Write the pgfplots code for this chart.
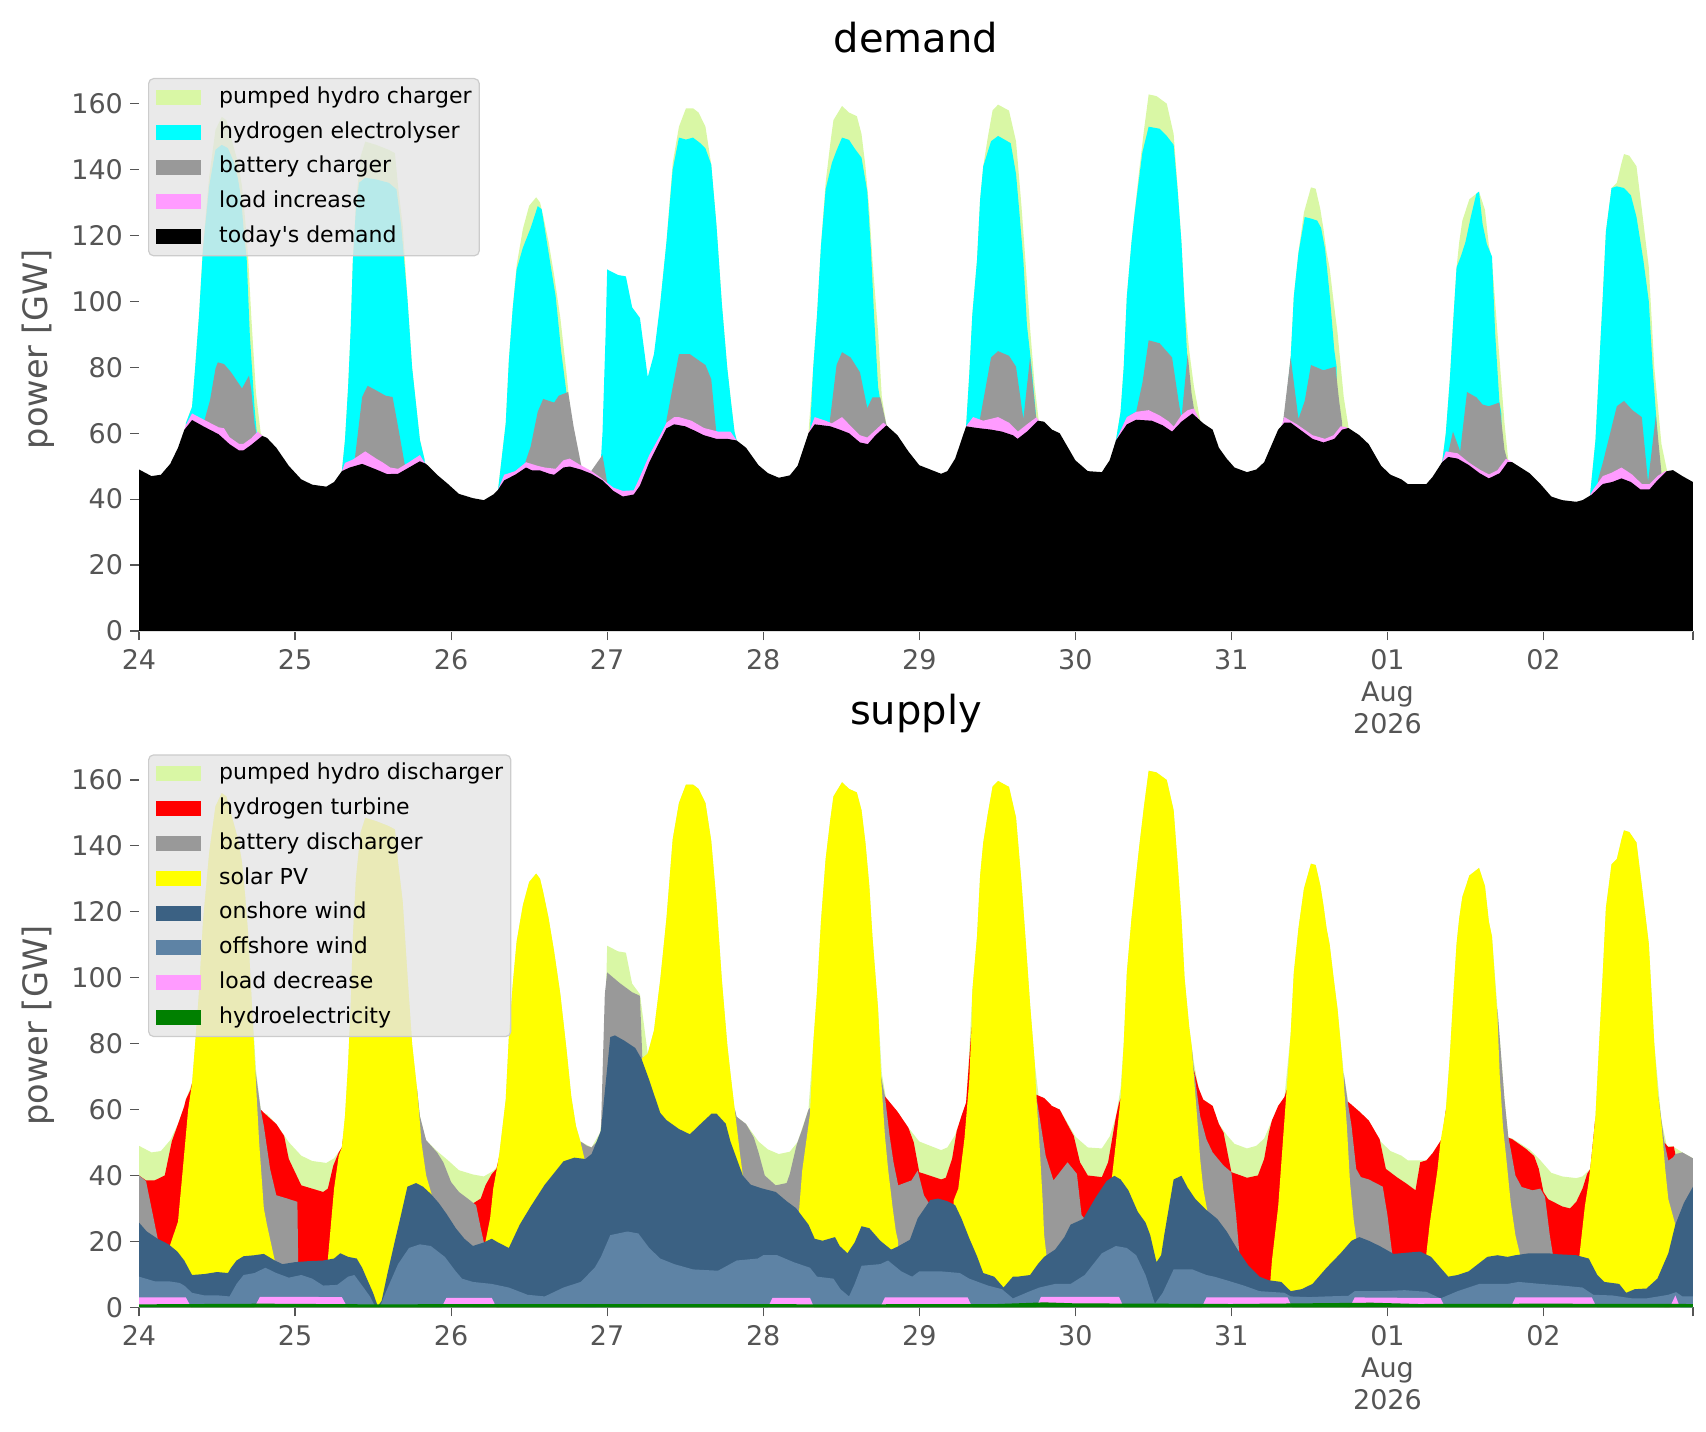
\documentclass[border=0pt]{standalone}
\usepackage{fontspec}
\setmainfont{DejaVu Sans}
\usepackage{pgfplots}
\pgfplotsset{compat=1.18}
\definecolor{phc}{RGB}{217,247,165}
\definecolor{hyd}{RGB}{0,255,255}
\definecolor{bat}{RGB}{153,153,153}
\definecolor{lpink}{RGB}{255,155,255}
\definecolor{solar}{RGB}{255,255,0}
\definecolor{onw}{RGB}{59,97,131}
\definecolor{offw}{RGB}{94,131,165}
\definecolor{hydro}{RGB}{0,128,0}
\definecolor{tickgray}{RGB}{85,85,85}
\definecolor{legbg}{RGB}{229,229,229}
\definecolor{legedge}{RGB}{204,204,204}
\pgfplotsset{
 myax/.style={
  scale only axis, width=777pt, height=281.8pt,
  xmin=0, xmax=9.9583, ymin=0, ymax=171,
  axis x line*=bottom, axis y line*=left,
  axis line style={-},
  x axis line style={draw=black!12, line width=1pt},
  y axis line style={draw=none},
  tick align=outside,
  major tick length=4.5pt,
  tick style={draw=tickgray, line width=0.6pt},
  ytick={0,20,40,60,80,100,120,140,160},
  xtick={0,1,2,3,4,5,6,7,8,9,9.9583},
  xticklabels={24,25,26,27,28,29,30,31,{01\\Aug\\2026},02,{}},
  tick label style={font=\fontsize{13.5}{16}\selectfont, text=tickgray},
  xticklabel style={align=center},
  xticklabel shift=1.1pt,
  /pgf/number format/assume math mode=true,
  ylabel={power [GW]},
  every axis y label/.style={at={(axis description cs:-0.065,0.5)}, rotate=90, anchor=center, font=\fontsize{16.8}{20}\selectfont, text=tickgray},
  legend cell align=left,
  legend style={at={(axis description cs:0,1)}, anchor=north west, xshift=4.5pt, yshift=-5.3pt,
    draw=legedge, line width=0.6pt, fill=legbg, fill opacity=0.8, draw opacity=1, text opacity=1,
    rounded corners=2.5pt, inner xsep=3.8pt, inner ysep=4pt,
    font=\fontsize{11}{13}\selectfont, row sep=6.4pt,
    nodes={inner sep=0pt, text height=8.4pt, text depth=2.6pt},
    /tikz/every odd column/.append style={column sep=9pt}},
  legend image code/.code={\begin{scope}[##1]\pgfsetcornersarced{\pgfpointorigin}\pgfsetfillopacity{1}\pgfpathrectangle{\pgfpoint{0pt}{-3.75pt}}{\pgfpoint{22.5pt}{7.5pt}}\pgfusepath{fill}\end{scope}},
 }
}
\begin{document}
\begin{tikzpicture}
\useasboundingbox (0,0) rectangle (853pt,715.5pt);
% ---------------- demand ----------------
\begin{axis}[myax, at={(69.5pt,400pt)}, anchor=south west, title={demand},
  every axis title/.style={at={(axis description cs:0.5,1)}, anchor=center, yshift=14.7pt, font=\fontsize{20}{24}\selectfont}]
\addplot[fill=phc, draw=none] coordinates {
(0.30,0) (0.30,63) (0.34,68) (0.36,80) (0.385,96) (0.41,117) (0.45,138) (0.49,152) (0.53,156) (0.56,155) (0.60,148) (0.635,142) (0.66,135) (0.68,125) (0.70,113) (0.72,95) (0.75,72) (0.78,60) (0.79,59.2) (0.79,0)
(1.30,0) (1.30,48.5) (1.32,58) (1.34,74) (1.356,91) (1.37,112) (1.39,130) (1.42,144) (1.45,148.5) (1.52,147.5) (1.60,146) (1.64,145) (1.66,135) (1.69,123) (1.72,101) (1.75,80) (1.80,58) (1.83,52) (1.83,0)
(2.30,0) (2.30,42.5) (2.35,63) (2.37,82) (2.395,98) (2.42,111) (2.46,122) (2.50,129) (2.545,131.6) (2.57,130) (2.59,126) (2.625,118) (2.66,108) (2.70,95) (2.74,78) (2.77,64) (2.80,55) (2.83,50.3) (2.83,0)
(3.34,0) (3.34,99.3) (3.38,118) (3.42,142) (3.46,153) (3.505,158.6) (3.55,158.6) (3.586,157.3) (3.63,153) (3.667,141.5) (3.70,123.4) (3.735,99.3) (3.77,79.6) (3.793,69.8) (3.816,60.5) (3.83,57.8) (3.83,0)
(4.29,0) (4.29,60) (4.32,79.6) (4.345,96) (4.37,117) (4.40,136) (4.43,148) (4.45,155) (4.505,159.3) (4.55,157.3) (4.60,156.2) (4.63,150.8) (4.655,141) (4.68,127.8) (4.70,112.5) (4.736,90.6) (4.76,71) (4.79,62.5) (4.79,0)
(5.30,0) (5.30,62.1) (5.32,77.5) (5.34,96) (5.37,112.5) (5.39,131) (5.41,141) (5.44,150) (5.47,158) (5.505,159.7) (5.575,157.9) (5.62,148.6) (5.655,128.9) (5.68,112.5) (5.71,92) (5.74,74.2) (5.765,64) (5.765,0)
(6.26,0) (6.26,57.8) (6.29,66.5) (6.31,80) (6.33,101.5) (6.36,118) (6.38,127) (6.41,140) (6.44,152) (6.47,162.8) (6.52,162.3) (6.586,160) (6.63,150.8) (6.656,134.4) (6.68,118) (6.70,100) (6.73,85) (6.76,74.2) (6.79,66.5) (6.80,64) (6.80,0)
(7.34,0) (7.34,63.8) (7.38,83) (7.40,101.5) (7.43,115) (7.465,127) (7.51,134.6) (7.54,134.2) (7.57,128) (7.59,122) (7.61,115) (7.63,110) (7.655,100) (7.68,90.6) (7.72,71) (7.75,62) (7.75,0)
(8.35,0) (8.35,51.2) (8.374,60) (8.40,76.4) (8.42,92.8) (8.443,110.3) (8.46,118) (8.48,124.5) (8.525,131) (8.587,133.3) (8.625,127.8) (8.65,117) (8.67,112.5) (8.705,90.6) (8.75,63.2) (8.775,51.5) (8.775,0)
(9.30,0) (9.30,42) (9.333,57.8) (9.356,79.6) (9.38,101.5) (9.40,121.2) (9.436,134.4) (9.47,136) (9.50,142) (9.516,144.7) (9.55,144.2) (9.596,141) (9.63,128) (9.675,110.3) (9.71,80) (9.756,56.7) (9.79,49) (9.79,0)
} \closedcycle;
\addlegendentry{pumped hydro charger}
\addplot[fill=hyd, draw=none] coordinates {
(0.30,0) (0.30,63) (0.34,68) (0.36,80) (0.385,96) (0.41,116) (0.45,135) (0.49,146) (0.53,147.5) (0.57,146.5) (0.61,142) (0.635,137) (0.655,131) (0.67,122) (0.69,113) (0.71,90) (0.74,68) (0.755,60) (0.755,0)
(1.30,0) (1.30,48.5) (1.32,58) (1.34,74) (1.356,91) (1.37,112) (1.39,128) (1.41,136) (1.45,137.5) (1.52,137) (1.60,136) (1.65,134) (1.68,123) (1.72,101) (1.75,80) (1.80,58) (1.83,52) (1.83,0)
(2.30,0) (2.30,42.5) (2.35,63) (2.37,82) (2.395,98) (2.42,109.7) (2.46,116.3) (2.51,122.3) (2.555,128.9) (2.58,128) (2.625,114.7) (2.67,101.5) (2.705,85) (2.74,72) (2.75,68) (2.75,0)
(2.955,0) (2.955,48) (2.97,60) (2.99,90) (3.00,109.7) (3.07,108) (3.12,107.6) (3.16,98.2) (3.21,95) (3.26,77) (3.30,84) (3.34,99.3) (3.38,118) (3.42,140) (3.46,149.7) (3.505,149.1) (3.55,149.7) (3.597,148) (3.63,146.4) (3.667,141.5) (3.70,123.4) (3.735,99.3) (3.77,79.6) (3.793,69.8) (3.816,60.5) (3.83,57.8) (3.83,0)
(4.30,0) (4.30,60.5) (4.32,79.6) (4.345,96) (4.37,116.8) (4.40,134) (4.44,142) (4.47,145.8) (4.505,149.7) (4.55,149) (4.586,146.4) (4.63,143.6) (4.667,133.3) (4.69,115.8) (4.71,96) (4.736,74) (4.75,70) (4.75,0)
(5.30,0) (5.30,62.1) (5.32,77.5) (5.34,96) (5.37,112.5) (5.39,131) (5.41,141) (5.46,148.6) (5.505,150.2) (5.55,149) (5.586,148) (5.62,138.7) (5.64,127.8) (5.667,112.5) (5.69,92.8) (5.72,80) (5.75,64.3) (5.75,0)
(6.26,0) (6.26,57.8) (6.29,66.5) (6.31,80) (6.33,101.5) (6.36,118) (6.38,126.7) (6.43,145.3) (6.47,153) (6.54,152.4) (6.586,150.2) (6.63,147.5) (6.655,134) (6.68,118) (6.70,99.3) (6.72,80) (6.745,66.5) (6.76,64) (6.76,0)
(7.34,0) (7.34,63.8) (7.38,83) (7.40,101.5) (7.43,114.7) (7.47,125.6) (7.52,125) (7.55,124.5) (7.575,122.3) (7.60,116) (7.63,102) (7.66,85) (7.675,80) (7.675,0)
(8.35,0) (8.35,51) (8.374,60) (8.40,76.4) (8.42,92.8) (8.443,110.3) (8.47,113.6) (8.50,118) (8.534,125.6) (8.57,132.7) (8.587,133.3) (8.61,123.4) (8.637,117.4) (8.67,113.6) (8.69,90.6) (8.717,69.8) (8.73,66) (8.73,0)
(9.30,0) (9.30,42) (9.333,57.8) (9.356,79.6) (9.38,101.5) (9.40,121.2) (9.436,134.4) (9.47,134.9) (9.516,134.4) (9.56,132.2) (9.596,125.6) (9.64,112.5) (9.675,100) (9.70,79.6) (9.72,66.5) (9.73,60) (9.73,0)
} \closedcycle;
\addlegendentry{hydrogen electrolyser}
\addplot[fill=bat, draw=none] coordinates {
(0.42,0) (0.42,64) (0.455,70) (0.49,79.6) (0.505,81.5) (0.545,81) (0.59,78.5) (0.66,73.6) (0.705,77.5) (0.72,73) (0.74,63) (0.755,59) (0.755,0)
(1.385,0) (1.385,53) (1.43,71) (1.465,74.4) (1.52,73) (1.58,71.4) (1.625,71) (1.66,62) (1.705,50) (1.705,0)
(2.476,0) (2.476,51.2) (2.51,56) (2.555,66.5) (2.59,70.4) (2.66,69.3) (2.69,71.4) (2.75,72.5) (2.785,62) (2.83,51.2) (2.835,50) (2.835,0)
(2.89,0) (2.89,48) (2.97,53.4) (3.00,45) (3.00,0)
(3.38,0) (3.38,64) (3.42,74) (3.46,84) (3.53,84) (3.59,82) (3.63,80.7) (3.667,76.4) (3.70,60) (3.70,0)
(4.425,0) (4.425,63) (4.47,80.7) (4.505,84.6) (4.56,83) (4.62,78.5) (4.667,67.6) (4.70,70.9) (4.75,70.9) (4.79,62.4) (4.79,0)
(5.38,0) (5.38,62) (5.46,83) (5.505,84.9) (5.575,83.5) (5.62,80.2) (5.667,64.3) (5.71,83) (5.75,64) (5.75,0)
(6.33,0) (6.33,64.9) (6.39,66.5) (6.43,75.3) (6.47,88.2) (6.54,87.3) (6.62,83) (6.665,68.7) (6.68,64.5) (6.72,84) (6.745,72) (6.765,66) (6.765,0)
(7.33,0) (7.33,63) (7.38,83) (7.43,64.3) (7.47,69.8) (7.51,80.7) (7.59,79.1) (7.667,80.2) (7.69,70) (7.71,63) (7.71,0)
(8.375,0) (8.375,51) (8.42,60.5) (8.466,54.5) (8.51,72.5) (8.57,70.9) (8.61,68.7) (8.65,68.2) (8.717,69.3) (8.75,55) (8.77,51.5) (8.77,0)
(9.35,0) (9.35,46) (9.38,51) (9.47,68.2) (9.516,69.8) (9.57,67) (9.63,64.9) (9.67,45.2) (9.72,65.4) (9.756,48) (9.756,0)
} \closedcycle;
\addlegendentry{battery charger}
\addplot[fill=lpink, draw=none] coordinates {
(0.29,0) (0.29,61.0) (0.30,62.5) (0.34,66) (0.42,64) (0.51,61.8) (0.545,61.5) (0.58,58.8) (0.64,56.8) (0.67,56.8) (0.72,58.5) (0.76,60.5) (0.79,59.2) (0.79,0)
(1.30,0) (1.30,48.5) (1.32,51) (1.37,52) (1.45,54.5) (1.52,52.3) (1.56,51.2) (1.61,49.6) (1.66,49.2) (1.73,51.2) (1.80,53.4) (1.83,51) (1.84,50.7) (1.84,0)
(2.30,0) (2.30,42.8) (2.34,47.4) (2.41,48.5) (2.48,51.2) (2.555,50.1) (2.60,49.6) (2.67,49.2) (2.72,51.8) (2.76,52.3) (2.83,50.3) (2.90,48.5) (2.95,46.8) (3.04,43.5) (3.10,42.5) (3.17,42.7) (3.20,45.7) (3.27,53.4) (3.34,59.4) (3.38,63.2) (3.43,64.9) (3.46,64.9) (3.54,63.8) (3.62,61.6) (3.71,60.5) (3.79,60.5) (3.83,57.8) (3.83,0)
(4.29,0) (4.29,60) (4.33,64.9) (4.40,63.8) (4.44,63) (4.505,64.9) (4.55,62.7) (4.62,59.4) (4.667,58.7) (4.72,61) (4.77,63.2) (4.79,62.4) (4.79,0)
(5.30,0) (5.30,62.1) (5.345,64.9) (5.41,63.8) (5.505,64.9) (5.575,63.2) (5.632,60.5) (5.69,62.7) (5.75,64.8) (5.765,64) (5.765,0)
(6.26,0) (6.26,57.8) (6.33,64.9) (6.39,66.5) (6.47,67) (6.54,65.4) (6.60,63.5) (6.63,62) (6.68,65.5) (6.72,67) (6.76,67.5) (6.79,64.5) (6.79,0)
(7.32,0) (7.32,62) (7.34,64.9) (7.42,62.7) (7.52,59.4) (7.60,58.3) (7.655,59.4) (7.70,62.1) (7.74,61.8) (7.74,0)
(8.35,0) (8.35,51.2) (8.374,54.5) (8.45,53.9) (8.52,51.2) (8.59,49) (8.65,47.5) (8.705,48.8) (8.76,52.3) (8.80,51.2) (8.80,0)
(9.30,0) (9.30,41.4) (9.32,43) (9.38,47) (9.436,48) (9.50,49.6) (9.57,47.4) (9.63,44.6) (9.68,44.6) (9.73,47) (9.78,48.5) (9.79,48.5) (9.79,0)
} \closedcycle;
\addlegendentry{load increase}
\addplot[fill=black, draw=none] coordinates {
(0,49.0) (0.08,47.0) (0.14,47.4) (0.20,50.7) (0.25,55.6) (0.29,61.0) (0.34,64.0) (0.42,61.9) (0.51,59.7) (0.58,56.7) (0.64,54.8) (0.67,54.8) (0.72,56.5) (0.79,59.2) (0.82,58.6) (0.88,55.6) (0.96,50.1) (1.04,46.0) (1.11,44.4) (1.20,43.8) (1.25,45.2) (1.30,48.5) (1.35,49.6) (1.43,50.7) (1.52,49.0) (1.59,47.6) (1.66,47.7) (1.73,49.6) (1.80,51.5) (1.84,50.7) (1.91,47.4) (1.98,44.6) (2.05,41.6) (2.14,40.3) (2.21,39.7) (2.27,41.4) (2.30,42.8) (2.34,45.7) (2.41,47.4) (2.48,49.6) (2.52,48.7) (2.57,48.7) (2.63,47.7) (2.66,47.4) (2.72,49.6) (2.76,49.9) (2.83,49.0) (2.90,47.7) (2.97,45.7) (3.04,42.5) (3.10,40.8) (3.17,41.4) (3.21,44.1) (3.27,51.2) (3.34,57.8) (3.38,61.5) (3.43,62.7) (3.50,62.1) (3.56,60.8) (3.62,59.4) (3.70,58.3) (3.77,58.3) (3.83,57.8) (3.89,55.6) (3.97,50.3) (4.03,47.9) (4.10,46.5) (4.17,47.2) (4.22,50.1) (4.29,60.0) (4.33,62.7) (4.43,62.1) (4.49,61.1) (4.55,60.0) (4.62,57.2) (4.67,56.7) (4.72,59.4) (4.79,62.4) (4.86,59.4) (4.93,54.5) (5.00,50.3) (5.07,49.0) (5.14,47.7) (5.18,48.5) (5.23,52.3) (5.30,62.1) (5.37,61.6) (5.46,61.1) (5.53,60.5) (5.60,59.4) (5.63,58.3) (5.69,60.5) (5.76,63.8) (5.80,63.5) (5.85,61.1) (5.90,60.0) (6.00,51.8) (6.08,48.5) (6.17,48.2) (6.22,51.8) (6.26,57.8) (6.33,62.7) (6.39,64.1) (6.49,63.8) (6.56,62.4) (6.62,60.5) (6.68,63.5) (6.75,66.0) (6.82,63.0) (6.88,61.1) (6.92,55.6) (6.97,52.3) (7.02,49.6) (7.10,48.2) (7.16,49.0) (7.21,51.2) (7.26,56.7) (7.30,61.1) (7.34,63.2) (7.38,63.2) (7.44,61.1) (7.52,58.3) (7.59,57.2) (7.66,58.3) (7.71,61.1) (7.75,61.6) (7.82,59.4) (7.88,56.7) (7.96,50.1) (8.02,47.4) (8.09,46.0) (8.13,44.6) (8.25,44.6) (8.29,46.8) (8.35,51.2) (8.39,52.8) (8.45,52.3) (8.52,50.4) (8.59,47.9) (8.65,46.3) (8.72,47.9) (8.77,51.2) (8.80,51.2) (8.91,47.9) (8.98,44.6) (9.05,40.8) (9.12,39.7) (9.21,39.2) (9.25,39.7) (9.31,41.4) (9.38,44.6) (9.44,45.2) (9.50,46.3) (9.56,45.2) (9.62,43.0) (9.68,43.0) (9.73,45.7) (9.79,48.5) (9.83,48.8) (9.89,47.0) (9.958,45.2)
} \closedcycle;
\addlegendentry{today\textquotesingle s demand}
\end{axis}
% ---------------- supply ----------------
\begin{axis}[myax, at={(69.5pt,61.85pt)}, anchor=south west, title={supply},
  every axis title/.style={at={(axis description cs:0.5,1)}, anchor=center, yshift=15.35pt, font=\fontsize{20}{24}\selectfont}]
\addplot[fill=phc, draw=none] coordinates {
(0,49.0) (0.08,47.0) (0.14,47.4) (0.20,50.7) (0.25,55.6) (0.29,61.0) (0.30,63) (0.34,68) (0.36,80) (0.385,96) (0.41,117) (0.45,138) (0.49,152) (0.53,156) (0.56,155) (0.60,148) (0.635,142) (0.66,135) (0.68,125) (0.70,113) (0.72,95) (0.75,72) (0.78,60) (0.79,59.2) (0.82,58.6) (0.88,55.6) (0.96,50.1) (1.04,46.0) (1.11,44.4) (1.20,43.8) (1.25,45.2) (1.30,48.5) (1.32,58) (1.34,74) (1.356,91) (1.37,112) (1.39,130) (1.42,144) (1.45,148.5) (1.52,147.5) (1.60,146) (1.64,145) (1.66,135) (1.69,123) (1.72,101) (1.75,80) (1.80,58) (1.83,52) (1.84,50.7) (1.91,47.4) (1.98,44.6) (2.05,41.6) (2.14,40.3) (2.21,39.7) (2.27,41.4) (2.30,42.8) (2.35,63) (2.37,82) (2.395,98) (2.42,111) (2.46,122) (2.50,129) (2.545,131.6) (2.57,130) (2.59,126) (2.625,118) (2.66,108) (2.70,95) (2.74,78) (2.77,64) (2.80,55) (2.83,50.3) (2.90,48.5) (2.93,51) (2.955,53) (2.97,60) (2.99,90) (3.00,109.7) (3.07,108) (3.12,107.6) (3.16,98.2) (3.21,95) (3.26,77) (3.30,84) (3.34,99.3) (3.38,118) (3.42,142) (3.46,153) (3.505,158.6) (3.55,158.6) (3.586,157.3) (3.63,153) (3.667,141.5) (3.70,123.4) (3.735,99.3) (3.77,79.6) (3.793,69.8) (3.816,60.5) (3.83,57.8) (3.89,55.6) (3.97,50.3) (4.03,47.9) (4.10,46.5) (4.17,47.2) (4.22,50.1) (4.29,60.0) (4.32,79.6) (4.345,96) (4.37,117) (4.40,136) (4.43,148) (4.45,155) (4.505,159.3) (4.55,157.3) (4.60,156.2) (4.63,150.8) (4.655,141) (4.68,127.8) (4.70,112.5) (4.736,90.6) (4.76,71) (4.79,62.5) (4.86,59.4) (4.93,54.5) (5.00,50.3) (5.07,49.0) (5.14,47.7) (5.18,48.5) (5.23,52.3) (5.30,62.1) (5.32,77.5) (5.34,96) (5.37,112.5) (5.39,131) (5.41,141) (5.44,150) (5.47,158) (5.505,159.7) (5.575,157.9) (5.62,148.6) (5.655,128.9) (5.68,112.5) (5.71,92) (5.74,74.2) (5.765,64) (5.80,63.5) (5.85,61.1) (5.90,60.0) (6.00,51.8) (6.08,48.5) (6.17,48.2) (6.22,51.8) (6.26,57.8) (6.29,66.5) (6.31,80) (6.33,101.5) (6.36,118) (6.38,127) (6.41,140) (6.44,152) (6.47,162.8) (6.52,162.3) (6.586,160) (6.63,150.8) (6.656,134.4) (6.68,118) (6.70,100) (6.73,85) (6.76,74.2) (6.79,66.5) (6.80,64) (6.82,63.0) (6.88,61.1) (6.92,55.6) (6.97,52.3) (7.02,49.6) (7.10,48.2) (7.16,49.0) (7.21,51.2) (7.26,56.7) (7.30,61.1) (7.34,63.8) (7.38,83) (7.40,101.5) (7.43,115) (7.465,127) (7.51,134.6) (7.54,134.2) (7.57,128) (7.59,122) (7.61,115) (7.63,110) (7.655,100) (7.68,90.6) (7.72,71) (7.75,62) (7.82,59.4) (7.88,56.7) (7.96,50.1) (8.02,47.4) (8.09,46.0) (8.13,44.6) (8.25,44.6) (8.29,46.8) (8.35,51.2) (8.374,60) (8.40,76.4) (8.42,92.8) (8.443,110.3) (8.46,118) (8.48,124.5) (8.525,131) (8.587,133.3) (8.625,127.8) (8.65,117) (8.67,112.5) (8.705,90.6) (8.75,63.2) (8.775,51.5) (8.80,51.2) (8.91,47.9) (8.98,44.6) (9.05,40.8) (9.12,39.7) (9.21,39.2) (9.25,39.7) (9.30,42) (9.333,57.8) (9.356,79.6) (9.38,101.5) (9.40,121.2) (9.436,134.4) (9.47,136) (9.50,142) (9.516,144.7) (9.55,144.2) (9.596,141) (9.63,128) (9.675,110.3) (9.71,80) (9.756,56.7) (9.79,49) (9.83,48.8) (9.89,47.0) (9.958,45.2)
} \closedcycle;
\addlegendentry{pumped hydro discharger}
\addplot[fill=red, draw=none] coordinates {
(0,40) (0.045,38.5) (0.10,38.5) (0.165,40) (0.21,50.3) (0.25,55.6) (0.29,61) (0.30,63) (0.33,66) (0.34,68) (0.34,0)
(0.78,0) (0.78,60) (0.80,59) (0.88,55.6) (0.93,52) (0.96,45) (1.04,37) (1.11,36) (1.18,35) (1.21,36) (1.245,43) (1.28,47) (1.30,48.5) (1.31,52) (1.31,0)
(2.14,0) (2.14,31.5) (2.19,33) (2.22,37) (2.26,40.4) (2.29,42) (2.31,46) (2.31,0)
(4.78,0) (4.78,64) (4.86,59.4) (4.93,54.5) (4.965,50) (5.00,41) (5.07,39.9) (5.14,38.8) (5.17,39.3) (5.21,45) (5.24,53.5) (5.27,58) (5.30,62.1) (5.335,85) (5.335,0)
(5.75,0) (5.75,64.5) (5.80,63.5) (5.85,61.1) (5.90,60) (5.95,55.5) (5.99,52) (6.03,44) (6.08,40) (6.17,39.5) (6.21,44) (6.25,55) (6.26,57.8) (6.28,62) (6.29,63.4) (6.29,0)
(6.76,0) (6.76,72) (6.79,66.5) (6.82,63) (6.88,61.1) (6.92,55.6) (6.95,53) (7.00,41) (7.06,40) (7.10,39.3) (7.17,40) (7.21,45) (7.24,53) (7.26,56.7) (7.30,61.1) (7.34,63.8) (7.355,66) (7.355,0)
(7.745,0) (7.745,62.5) (7.82,59.4) (7.88,56.7) (7.95,51) (7.99,42) (8.06,39.5) (8.12,37.6) (8.18,35.5) (8.21,44) (8.25,44.6) (8.29,46.8) (8.35,51.2) (8.375,60) (8.375,0)
(8.775,0) (8.775,51.5) (8.80,51) (8.89,48) (8.94,45.9) (8.97,42) (9.00,35) (9.03,32.8) (9.12,30.6) (9.17,30) (9.21,32) (9.25,36) (9.28,40.5) (9.30,42) (9.333,57.8) (9.333,0)
(9.775,0) (9.775,50) (9.80,48.6) (9.835,48.8) (9.845,46.5) (9.845,0)
} \closedcycle;
\addlegendentry{hydrogen turbine}
\addplot[fill=bat, draw=none] coordinates {
(0,40) (0.045,38.3) (0.12,20.8) (0.12,0)
(0.745,0) (0.745,72) (0.78,60) (0.80,55) (0.84,42) (0.88,34) (0.95,33) (1.015,32) (1.02,13.8) (1.02,0)
(1.78,0) (1.78,67) (1.80,58) (1.84,50.7) (1.91,47) (1.95,44) (2.00,38) (2.05,35) (2.12,32.5) (2.16,31) (2.19,24) (2.21,19.7) (2.21,0)
(2.83,0) (2.83,50.3) (2.87,49) (2.90,48.5) (2.93,50) (2.93,0)
(2.96,0) (2.96,53.6) (2.985,95) (3.00,101.6) (3.08,98.4) (3.16,95.6) (3.21,94.5) (3.225,76) (3.225,0)
(3.816,0) (3.816,60.5) (3.83,57.8) (3.89,55.6) (3.94,51.5) (3.97,47) (4.01,40) (4.08,37) (4.15,37.7) (4.17,40.4) (4.21,48.5) (4.22,50.1) (4.25,54) (4.29,60) (4.30,60.5) (4.30,0)
(4.755,0) (4.755,70) (4.78,64) (4.81,52) (4.835,44) (4.865,37) (4.95,38.5) (4.99,41.5) (5.03,34) (5.07,31) (5.07,0)
(5.75,0) (5.75,64) (5.78,55) (5.81,46) (5.86,38.5) (5.95,44) (6.01,40.5) (6.04,28) (6.06,26.8) (6.06,0)
(6.745,0) (6.745,79.5) (6.76,72) (6.80,58) (6.84,51) (6.88,47) (6.95,43) (7.00,41) (7.03,28) (7.05,17) (7.05,0)
(7.72,0) (7.72,71) (7.745,62.5) (7.77,55) (7.80,42) (7.83,39.5) (7.88,38.8) (7.97,36.6) (8.00,28) (8.03,16.5) (8.03,0)
(8.705,0) (8.705,90.6) (8.75,63.2) (8.775,51.5) (8.79,48) (8.82,40) (8.86,36.5) (8.93,35.5) (8.98,36) (9.01,33.5) (9.04,22) (9.06,16.1) (9.06,0)
(9.735,0) (9.735,64) (9.756,56.7) (9.775,50) (9.80,44.5) (9.83,45.5) (9.845,46.5) (9.89,47) (9.958,45.2)
} \closedcycle;
\addlegendentry{battery discharger}
\addplot[fill=solar, draw=none] coordinates {
(0.20,0) (0.20,19) (0.25,26) (0.28,41.5) (0.315,60) (0.34,68) (0.36,80) (0.385,96) (0.41,117) (0.45,138) (0.49,152) (0.53,156) (0.56,155) (0.60,148) (0.635,142) (0.66,135) (0.68,125) (0.70,113) (0.72,95) (0.745,72) (0.77,50) (0.80,30) (0.82,25) (0.87,14.2) (0.87,0)
(1.21,0) (1.21,14.5) (1.25,36) (1.28,46) (1.30,48.5) (1.32,58) (1.34,74) (1.356,91) (1.37,112) (1.39,130) (1.42,144) (1.45,148.5) (1.52,147.5) (1.60,146) (1.64,145) (1.66,135) (1.69,123) (1.72,101) (1.75,80) (1.78,67) (1.79,62) (1.81,50) (1.84,40) (1.875,34.3) (1.875,0)
(2.22,0) (2.22,19.9) (2.25,27) (2.27,36) (2.295,42.6) (2.31,47) (2.35,63) (2.37,82) (2.395,98) (2.42,111) (2.46,122) (2.50,129) (2.545,131.6) (2.57,130) (2.59,126) (2.625,118) (2.66,108) (2.70,95) (2.74,78) (2.77,64) (2.80,55) (2.83,50) (2.855,45) (2.855,0)
(3.22,0) (3.22,75.4) (3.26,77) (3.30,84) (3.34,99.3) (3.38,118) (3.42,142) (3.46,153) (3.505,158.6) (3.55,158.6) (3.586,157.3) (3.63,153) (3.667,141.5) (3.70,123.4) (3.735,99.3) (3.77,79.6) (3.793,69.8) (3.816,60.5) (3.83,55) (3.85,47) (3.87,39.9) (3.87,0)
(4.23,0) (4.23,29.5) (4.25,41.5) (4.30,58.8) (4.32,79.6) (4.345,96) (4.37,117) (4.40,136) (4.43,148) (4.45,155) (4.505,159.3) (4.55,157.3) (4.60,156.2) (4.63,150.8) (4.655,141) (4.68,127.8) (4.70,112.5) (4.736,90.6) (4.755,70) (4.78,52) (4.80,42) (4.83,30) (4.85,23) (4.865,19.9) (4.865,0)
(5.22,0) (5.22,32.4) (5.25,36) (5.29,51.4) (5.32,68.6) (5.335,85) (5.34,96) (5.37,112.5) (5.39,131) (5.41,141) (5.44,150) (5.47,158) (5.505,159.7) (5.575,157.9) (5.62,148.6) (5.655,128.9) (5.68,112.5) (5.71,92) (5.74,74.2) (5.75,64) (5.77,50) (5.79,33) (5.80,22) (5.815,15.8) (5.815,0)
(6.235,0) (6.235,39.6) (6.26,50) (6.29,63.4) (6.31,79.8) (6.33,101.5) (6.36,118) (6.38,127) (6.41,140) (6.44,152) (6.47,162.8) (6.52,162.3) (6.586,160) (6.63,150.8) (6.656,134.4) (6.68,118) (6.70,100) (6.73,85) (6.745,79.5) (6.76,70) (6.78,58) (6.80,45) (6.82,36) (6.845,29.4) (6.845,0)
(7.25,0) (7.25,8.1) (7.26,14.2) (7.30,30.6) (7.35,63.4) (7.38,83) (7.40,101.5) (7.43,115) (7.465,127) (7.51,134.6) (7.54,134.2) (7.57,128) (7.59,122) (7.61,115) (7.63,110) (7.655,100) (7.68,90.6) (7.71,75) (7.74,55) (7.76,38) (7.785,26) (7.80,21) (7.80,0)
(8.25,0) (8.25,16.5) (8.27,25) (8.32,41.5) (8.34,50.3) (8.375,60) (8.40,76.4) (8.42,92.8) (8.443,110.3) (8.46,118) (8.48,124.5) (8.525,131) (8.587,133.3) (8.625,127.8) (8.65,117) (8.67,112.5) (8.705,88) (8.72,70) (8.74,55) (8.76,46) (8.79,31.7) (8.82,21.9) (8.85,15.9) (8.85,0)
(9.23,0) (9.23,15.6) (9.265,30.6) (9.29,38.3) (9.31,46.8) (9.333,57.8) (9.356,79.6) (9.38,101.5) (9.40,121.2) (9.436,134.4) (9.47,136) (9.50,142) (9.516,144.7) (9.55,144.2) (9.596,141) (9.63,128) (9.675,110.3) (9.71,80) (9.735,64) (9.756,55.8) (9.78,42) (9.80,32.8) (9.835,26.8) (9.845,25.1) (9.845,0)
} \closedcycle;
\addlegendentry{solar PV}
\addplot[fill=onw, draw=none] coordinates {
(0,25.7) (0.05,23) (0.12,20.8) (0.19,19.1) (0.246,16.9) (0.29,14.2) (0.34,9.8) (0.42,10.1) (0.50,10.7) (0.57,10.4) (0.59,12) (0.625,14.2) (0.67,15.5) (0.74,15.8) (0.80,16.2) (0.87,14.2) (0.92,13.1) (1.00,13.7) (1.085,14) (1.18,14.2) (1.25,14.8) (1.29,16.4) (1.34,15.3) (1.395,14.8) (1.43,12) (1.46,8.7) (1.50,4.4) (1.53,0.3) (1.555,2) (1.59,9.8) (1.64,20.2) (1.67,26.2) (1.72,36.6) (1.775,37.7) (1.82,36.6) (1.87,34.4) (1.92,31.7) (1.97,28.4) (2.03,24) (2.085,20.8) (2.14,18.6) (2.21,19.7) (2.26,20.8) (2.30,19.7) (2.37,18) (2.44,25.1) (2.51,30.6) (2.60,37.2) (2.72,44.3) (2.79,45.4) (2.86,45) (2.90,46.5) (2.93,50) (2.96,53.6) (3.02,82) (3.05,82.5) (3.11,80.9) (3.18,78.7) (3.22,75.4) (3.27,68.9) (3.34,59) (3.38,56.8) (3.46,54.1) (3.53,52.5) (3.60,55.7) (3.67,58.8) (3.70,58.8) (3.76,55.7) (3.79,50.3) (3.87,39.9) (3.92,37.2) (3.99,36.1) (4.08,35) (4.15,32.2) (4.21,30.1) (4.29,25.1) (4.33,20.8) (4.38,20.2) (4.46,21.3) (4.49,18.6) (4.54,16.4) (4.586,19.7) (4.63,24.6) (4.68,24) (4.75,20.2) (4.82,17.5) (4.865,18.5) (4.94,20.5) (4.99,27) (5.07,32.5) (5.12,33) (5.18,32.2) (5.23,31) (5.27,27) (5.32,21) (5.37,15.5) (5.41,10.4) (5.48,9.3) (5.54,6) (5.60,9.3) (5.63,9.3) (5.71,9.8) (5.76,13.1) (5.80,15.3) (5.87,17.5) (5.93,21.3) (5.97,25.1) (6.05,26.8) (6.13,33.3) (6.20,38.3) (6.25,39.9) (6.29,38.8) (6.34,35.5) (6.40,29) (6.45,25.7) (6.48,21.9) (6.52,13.7) (6.55,15.8) (6.57,22) (6.63,38.8) (6.68,39.9) (6.72,36.3) (6.77,32.8) (6.84,29.5) (6.91,26.8) (6.97,23) (7.04,17.5) (7.11,12.6) (7.18,9.3) (7.24,8.2) (7.32,7.7) (7.38,4.9) (7.45,5.5) (7.52,7.1) (7.61,12) (7.70,16.4) (7.77,20.2) (7.82,21.3) (7.88,20.2) (7.95,18.6) (8.04,16.2) (8.13,16.6) (8.21,16.9) (8.28,15.3) (8.34,12) (8.39,9.3) (8.45,9.8) (8.52,10.9) (8.58,13.1) (8.64,15.3) (8.705,15.8) (8.77,15.3) (8.82,15.8) (8.91,16.4) (9.03,16.4) (9.09,16.1) (9.21,15.8) (9.29,14.8) (9.345,9.8) (9.39,7.7) (9.485,7.1) (9.53,4.4) (9.585,5.5) (9.66,5.7) (9.73,8.7) (9.80,16.4) (9.845,25.1) (9.90,31.7) (9.958,36.6)
} \closedcycle;
\addlegendentry{onshore wind}
\addplot[fill=offw, draw=none] coordinates {
(0,9.3) (0.10,7.9) (0.19,7.9) (0.26,7.4) (0.29,6.6) (0.34,4.4) (0.42,3.6) (0.51,3.6) (0.58,3.3) (0.625,7.1) (0.67,9.8) (0.74,10.4) (0.81,12) (0.88,10.4) (0.96,9) (1.04,9.8) (1.11,8.7) (1.18,6.6) (1.27,6.8) (1.34,9.3) (1.38,9.8) (1.43,6.6) (1.48,3.3) (1.51,0.5) (1.545,0.2) (1.57,3.3) (1.61,7.7) (1.66,13.1) (1.73,18) (1.80,19.1) (1.87,18.6) (1.96,15.3) (2.03,10.9) (2.07,8.7) (2.14,7.7) (2.26,7.1) (2.37,6.0) (2.49,3.8) (2.60,3.3) (2.72,6) (2.83,7.7) (2.92,12) (2.96,15.3) (3.02,21.9) (3.13,23) (3.20,22.4) (3.27,18) (3.34,14.8) (3.43,13.1) (3.55,11.5) (3.71,11.1) (3.83,14.2) (3.965,14.8) (4.0,15.8) (4.09,15.8) (4.195,13.7) (4.30,12) (4.345,9.3) (4.45,8.7) (4.495,5.5) (4.55,3.3) (4.586,7.1) (4.63,12.6) (4.75,13.1) (4.80,14.2) (4.885,10.9) (4.954,9.3) (5.0,10.9) (5.14,10.9) (5.26,10.4) (5.32,8.7) (5.44,6.6) (5.53,5.5) (5.60,2.7) (5.71,4.9) (5.77,6) (5.87,7.1) (5.97,7.1) (6.06,9.8) (6.17,16.4) (6.26,18.6) (6.33,18) (6.39,15.8) (6.45,9.8) (6.51,1.1) (6.56,4.4) (6.63,11.5) (6.75,11.5) (6.84,9.8) (6.89,9.3) (6.97,8.2) (7.08,6.6) (7.18,4.9) (7.34,4.4) (7.38,3.3) (7.50,3.1) (7.61,3.3) (7.75,3.5) (7.79,4.9) (7.975,4.9) (8.11,5.2) (8.25,4.7) (8.34,2.7) (8.45,4.9) (8.59,7.1) (8.77,7.1) (8.84,7.7) (8.98,7.1) (9.12,6.6) (9.25,6) (9.32,3.8) (9.44,3.6) (9.57,2.7) (9.66,2.7) (9.80,3.8) (9.85,4.6) (9.89,3.3) (9.958,3.3)
} \closedcycle;
\addlegendentry{offshore wind}
\addplot[fill=lpink, draw=none] coordinates {
(0,3.0) (0.30,3.0) (0.335,0) (0.74,0) (0.775,3.2) (1.30,3.1) (1.335,0) (1.94,0) (1.97,2.9) (2.26,2.9) (2.29,0) (4.03,0) (4.06,2.9) (4.30,2.9) (4.325,0) (4.75,0) (4.78,3.0) (5.31,3.0) (5.34,0) (5.75,0) (5.78,3.2) (6.28,3.2) (6.31,0) (6.81,0) (6.84,3.0) (7.36,3.0) (7.39,0) (7.76,0) (7.79,3.0) (8.34,2.8) (8.37,0) (8.79,0) (8.82,3.0) (9.31,3.0) (9.34,0) (9.81,0) (9.845,3.6) (9.875,0) (9.958,0)
} \closedcycle;
\addlegendentry{load decrease}
\addplot[fill=hydro, draw=none] coordinates {
(0,0.9) (0.8,1.1) (1.5,0.9) (2.5,1.0) (3.5,1.0) (4.5,0.9) (5.5,1.0) (5.8,1.5) (6.0,1.2) (7.0,1.0) (7.9,1.4) (8.2,1.0) (9.0,1.1) (9.958,1.0)
} \closedcycle;
\addlegendentry{hydroelectricity}
\end{axis}
\end{tikzpicture}
\end{document}
